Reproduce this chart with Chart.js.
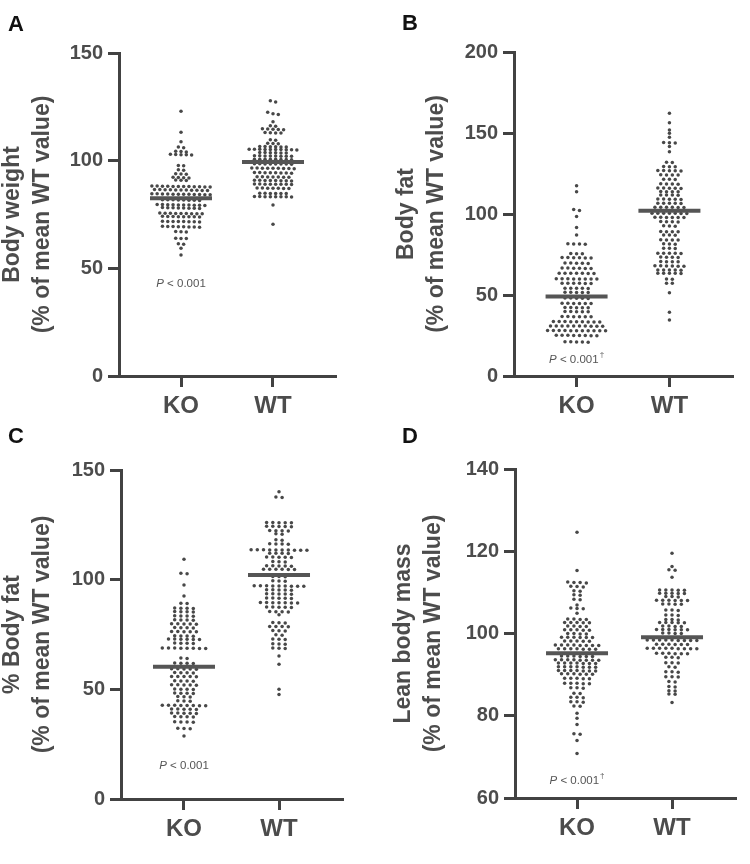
<!DOCTYPE html>
<html>
<head>
<meta charset="utf-8">
<script src="https://cdn.jsdelivr.net/npm/chart.js@4.4.1/dist/chart.umd.min.js"></script>
<style>
  body { margin: 0; background: #fff; }
  #fig { position: relative; width: 750px; height: 864px; overflow: hidden; }
  .panel { position: absolute; width: 375px; height: 432px; }
  .letter { position: absolute; font: bold 22px/22px "Liberation Sans", Arial, sans-serif; color: #111; }
</style>
</head>
<body>
<div id="fig">
  <div class="panel" style="left:0;top:0"><canvas id="chartA" width="375" height="432"></canvas></div>
  <div class="panel" style="left:375px;top:0"><canvas id="chartB" width="375" height="432"></canvas></div>
  <div class="panel" style="left:0;top:432px"><canvas id="chartC" width="375" height="432"></canvas></div>
  <div class="panel" style="left:375px;top:432px"><canvas id="chartD" width="375" height="432"></canvas></div>
  <div class="letter" style="left:8px;top:13px">A</div>
  <div class="letter" style="left:402px;top:12px">B</div>
  <div class="letter" style="left:8px;top:425px">C</div>
  <div class="letter" style="left:402px;top:425px">D</div>
</div>
<script>
const GROUPS = ['KO', 'WT'];

// A: body weight (% of mean WT value)
const bodyWeightKO = [123.0, 113.2, 108.8, 106.3, 106.0, 104.4, 104.2, 104.0, 103.0, 102.9, 102.8, 102.7, 102.6,
  97.8, 97.6, 95.8, 95.6, 93.9, 93.8, 93.7, 92.3, 92.2, 92.1, 92.0, 91.0, 90.9, 90.8,
  88.1, 87.9, 88.0, 88.2, 87.8, 88.0, 88.1, 87.9, 88.0, 88.2, 87.8, 88.0,
  86.5, 86.3, 86.4, 86.6, 86.2, 86.4, 86.5, 86.3, 86.4, 86.6, 86.2,
  84.5, 84.3, 84.4, 84.6, 84.2, 84.4, 84.5, 84.3, 84.4, 84.6, 84.2, 84.4,
  81.8, 81.6, 81.7, 81.9, 81.5, 81.7, 81.8, 81.6,
  79.5, 79.3, 79.4, 79.6, 79.2, 79.4, 79.5, 79.3, 79.4, 79.6,
  78.1, 77.9, 78.0, 78.2, 77.8, 78.0, 78.1, 77.9,
  75.6, 75.4, 75.5, 75.7, 75.3, 75.5, 75.6, 75.4, 75.5,
  74.1, 73.9, 74.0, 74.2, 73.8, 74.0, 74.1, 73.9,
  71.8, 71.6, 71.7, 71.9, 71.5, 71.7, 71.8, 71.6,
  69.4, 69.2, 69.3, 69.5, 69.1, 69.3, 69.4, 69.2,
  67.1, 66.9, 67.0, 64.0, 63.9, 63.8, 61.4, 61.2, 59.3, 56.2];
const bodyWeightWT = [127.8, 127.2, 122.5, 121.8, 121.4, 118.1, 116.2, 116.0,
  114.8, 114.7, 114.6, 114.5, 114.4, 113.1, 113.0, 112.9, 112.8,
  109.7, 109.5, 108.1, 107.9, 108.0,
  106.6, 106.5, 106.4, 106.6, 106.5, 106.4,
  105.3, 105.2, 105.1, 105.2, 105.3, 105.1, 105.2, 105.0, 105.2, 105.3,
  103.8, 103.7, 103.6, 103.7, 103.8, 103.6,
  102.3, 102.2, 102.1, 102.2, 102.3, 102.1, 102.2, 102.0,
  100.7, 100.6, 100.5, 100.6, 100.7, 100.5, 100.6, 100.4,
  98.6, 98.5, 98.4, 98.5, 98.6, 98.4, 98.5, 98.3,
  96.6, 96.5, 96.4, 96.5, 96.6, 96.4, 96.5, 96.3, 96.5,
  94.5, 94.4, 94.3, 94.4, 94.5, 94.3, 94.4, 94.2,
  92.5, 92.4, 92.3, 92.4, 92.5, 92.3, 92.4,
  90.9, 90.8, 90.7, 90.8, 90.9, 90.7, 90.8, 90.6,
  89.2, 89.1, 89.0, 89.1, 89.2, 89.0, 89.1, 88.9,
  87.3, 87.2, 87.1, 87.2, 87.3, 87.1, 87.2,
  84.9, 84.8, 84.7, 84.8, 84.9, 84.7,
  83.4, 83.3, 83.2, 83.3, 83.4, 83.2, 83.3, 83.1,
  79.4, 70.5];
const bodyWeightMedian = [82.5, 99.4];

// B: body fat (% of mean WT value)
const bodyFatKO = [117.5, 113.8, 102.8, 102.2, 98.4, 91.6, 87.0,
  81.6, 81.5, 81.4, 81.5, 75.6, 75.5, 75.4,
  73.1, 73.0, 72.9, 73.0, 73.1, 72.9,
  69.7, 69.6, 69.5, 69.6, 69.7,
  66.6, 66.5, 66.4, 66.5, 66.6, 66.4,
  63.5, 63.4, 63.3, 63.4, 63.5, 63.3, 63.4,
  60.0, 59.9, 59.8, 59.9, 60.0, 59.8, 59.9, 60.1,
  57.3, 57.2, 57.1, 57.2, 57.3, 57.1,
  54.2, 54.1, 54.0, 54.1, 54.2,
  51.7, 51.6, 51.5, 51.6, 51.7,
  48.1, 48.0, 47.9, 48.0, 48.1,
  44.9, 44.8, 44.7, 44.8, 44.9, 44.7,
  42.3, 42.2, 42.1, 42.2, 42.3,
  39.8, 39.7, 39.6, 39.7, 39.8,
  36.7, 36.6, 36.5, 36.6, 36.7, 36.5,
  33.6, 33.5, 33.4, 33.5, 33.6, 33.4, 33.5, 33.6, 33.4,
  30.9, 30.8, 30.7, 30.8, 30.9, 30.7, 30.8, 30.9, 30.7, 30.8,
  28.1, 28.0, 27.9, 28.0, 28.1, 27.9, 28.0, 28.1, 27.9, 28.0, 28.1,
  25.1, 25.0, 24.9, 25.0, 25.1, 24.9, 25.0, 25.1,
  21.1, 21.0, 20.9, 21.0, 21.1];
const bodyFatWT = [162.2, 156.4, 151.9, 149.8, 147.3, 144.1, 144.0, 143.9, 141.6, 138.5,
  131.9, 131.8, 129.3, 129.2, 129.1,
  126.8, 126.7, 126.6, 126.7, 126.8,
  124.2, 124.1, 124.0, 124.1, 121.5, 121.4, 121.3,
  118.6, 118.5, 118.4, 118.5,
  116.0, 115.9, 115.8, 115.9, 116.0,
  113.9, 113.8, 113.7, 113.8, 111.8, 111.7, 111.6, 111.7,
  109.2, 109.1, 109.0, 109.1, 109.2,
  106.7, 106.6, 106.5, 106.6, 106.7,
  104.2, 104.1, 104.0, 104.1, 104.2, 104.0,
  100.5, 100.4, 100.3, 100.4, 100.5, 100.3, 100.4,
  98.0, 97.9, 97.8, 97.9, 98.0, 97.8,
  95.3, 95.2, 95.1, 95.2, 92.7, 92.6, 92.5,
  89.2, 89.1, 89.0, 89.1, 87.1, 87.0, 86.9,
  84.1, 84.0, 83.9, 84.0, 81.6, 81.5, 81.4, 78.9, 78.8, 78.7,
  75.8, 75.7, 75.6, 75.7, 75.8, 73.4, 73.3, 73.2, 73.3,
  70.7, 70.6, 70.5, 70.6,
  68.0, 67.9, 67.8, 67.9, 68.0, 67.8,
  65.5, 65.4, 65.3, 65.4, 65.5,
  63.5, 63.4, 63.3, 63.4, 63.5,
  59.8, 59.7, 57.3, 57.2, 51.4, 39.3, 34.6];
const bodyFatMedian = [49.0, 102.0];

// C: % body fat (% of mean WT value)
const pctFatKO = [109.3, 102.9, 102.7, 97.6, 92.6, 89.3, 89.1,
  87.1, 87.0, 86.9, 87.0, 85.5, 85.4, 85.3, 85.4,
  83.5, 83.4, 83.3, 83.4, 81.7, 81.6, 81.5, 81.6,
  79.9, 79.8, 79.7, 79.8, 79.9, 78.2, 78.1, 78.0, 78.1,
  76.4, 76.3, 76.2, 76.3, 76.4, 74.4, 74.3, 74.2, 74.3,
  72.9, 72.8, 72.7, 72.8, 72.9, 72.7, 71.1, 71.0, 70.9, 71.0,
  68.8, 68.7, 68.6, 68.7, 68.8, 68.6, 68.7, 68.8,
  64.3, 64.1, 62.0, 61.9, 61.8, 61.9,
  59.4, 59.3, 59.2, 59.3, 59.4, 57.7, 57.6, 57.5, 57.6,
  55.9, 55.8, 55.7, 55.8, 55.9, 53.9, 53.8, 53.7, 53.8,
  52.1, 52.0, 51.9, 52.0, 52.1, 50.1, 50.0, 49.9, 50.0,
  48.3, 48.2, 48.1, 48.2, 46.7, 46.6, 46.5, 44.8, 44.7, 44.6,
  42.7, 42.6, 42.5, 42.6, 42.7, 42.5, 42.6, 42.7,
  41.0, 40.9, 40.8, 40.9, 41.0, 39.2, 39.1, 39.0, 39.1, 39.2,
  37.6, 37.5, 37.4, 37.5, 35.2, 35.1, 35.0, 35.1,
  32.2, 32.1, 32.0, 28.7];
const pctFatWT = [140.1, 137.7, 137.5,
  126.1, 126.0, 125.9, 126.0, 126.1, 124.3, 124.2, 124.1, 124.2, 124.3,
  122.4, 122.3, 122.2, 122.3, 120.9, 120.7, 118.2, 118.0,
  116.4, 116.3, 116.2, 116.3,
  113.6, 113.5, 113.4, 113.5, 113.6, 113.4, 113.5, 113.6, 113.4, 113.5,
  112.1, 112.0, 111.9, 112.0, 110.3, 110.2, 110.1, 110.2, 110.3,
  108.3, 108.2, 108.1, 106.3, 106.2, 106.1, 106.2, 106.3,
  104.8, 104.7, 104.6, 104.7, 104.8, 104.6,
  101.5, 101.4, 101.3, 99.5, 99.4, 99.3,
  97.2, 97.1, 97.0, 97.1, 97.2, 97.0, 97.1, 97.2, 97.0,
  95.4, 95.3, 95.2, 95.3, 95.4, 93.6, 93.5, 93.4, 93.5, 93.6,
  91.6, 91.5, 91.4, 91.5, 91.6,
  89.6, 89.5, 89.4, 89.5, 89.6, 89.4, 89.5,
  87.5, 87.4, 87.3, 87.4, 87.5, 85.5, 85.4, 85.3, 85.4, 84.0,
  80.5, 80.4, 80.3, 78.7, 78.6, 78.5, 78.6, 76.8, 76.7, 76.6,
  74.9, 74.7, 72.9, 72.8, 72.7, 70.8, 70.7, 70.6, 68.8, 68.7, 68.6,
  65.2, 61.4, 50.0, 47.6];
const pctFatMedian = [60.3, 102.1];

// D: lean body mass (% of mean WT value)
const leanMassKO = [124.6, 115.3,
  112.5, 112.4, 112.3, 112.4, 111.4, 111.3, 111.5,
  110.4, 110.3, 109.4, 109.3, 108.3, 108.2, 106.9, 106.1, 106.0, 106.2, 104.9,
  103.5, 103.4, 103.5, 103.4, 102.7, 102.6, 102.7, 102.6, 102.7,
  101.8, 101.7, 101.8, 101.7, 100.9, 100.8, 100.9, 100.8, 100.9,
  100.0, 99.9, 100.0, 99.9, 99.1, 99.0, 99.1, 99.0, 99.1, 99.0,
  98.2, 98.1, 98.2, 98.1, 98.2,
  97.2, 97.1, 97.2, 97.1, 97.2, 97.1, 97.2, 97.1,
  96.3, 96.2, 96.3, 96.2, 96.3, 96.2, 96.3,
  94.5, 94.4, 94.5, 94.4, 94.5, 94.4,
  93.6, 93.5, 93.6, 93.5, 93.6, 93.5, 93.6, 93.5,
  92.8, 92.7, 92.8, 92.7, 92.8, 92.7, 92.8,
  91.9, 91.8, 91.9, 91.8, 91.9, 91.8, 91.9,
  91.0, 90.9, 91.0, 90.9, 91.0, 90.9, 91.0,
  90.2, 90.1, 90.2, 90.1, 90.2, 90.1,
  89.1, 89.0, 89.1, 89.0, 89.1, 87.9, 87.8, 87.9, 87.8, 87.9,
  86.8, 86.7, 86.8, 85.5, 85.4, 84.5, 84.4, 84.5, 83.4, 83.3, 83.4, 82.4, 82.3,
  80.6, 79.4, 77.9, 75.6, 75.5, 74.0, 70.8];
const leanMassWT = [119.5, 116.3, 115.5, 115.4, 113.7,
  110.6, 110.5, 110.6, 110.5, 110.6, 109.8, 109.7, 109.8, 109.7, 109.8,
  109.0, 108.9, 109.0, 108.1, 108.0, 108.1, 108.0, 108.1, 108.0,
  107.2, 107.1, 107.2, 107.1, 105.7, 105.6, 105.7, 104.5, 104.4, 104.5,
  103.4, 103.3, 103.4, 102.7, 102.6, 102.7, 102.6, 102.7,
  101.8, 101.7, 101.8, 101.7, 101.0, 100.9, 101.0, 100.9, 101.0, 100.9,
  100.1, 100.0, 100.1, 100.0,
  98.4, 98.3, 98.4, 98.3, 98.4, 98.3, 98.4, 98.3, 98.4,
  97.4, 97.3, 97.4, 97.3, 97.4, 97.3,
  96.4, 96.3, 96.4, 96.3, 96.4, 96.3, 96.4, 96.3, 96.4,
  95.2, 95.1, 95.2, 95.1, 95.2, 95.1,
  94.2, 94.1, 94.2, 92.9, 92.8, 92.9, 91.9, 91.8,
  90.7, 90.6, 90.7, 89.5, 89.4, 89.5, 88.3, 88.2, 87.1, 87.0, 86.1, 86.0, 85.3, 85.2,
  83.2];
const leanMassMedian = [95.2, 99.1];

const FONT = '"Liberation Sans", Arial, sans-serif';
const TEXT_COLOR = '#4c4c4c';
const AXIS_COLOR = '#424242';
const DOT_COLOR = '#484848';

// GraphPad-style scatter: values that fall in the same pixel row get spread sideways
function swarm(values, center, pxPerY, pxPerX, gapPx) {
    const sorted = [...values].sort((a, b) => b - a);
    const pts = [];
    let row = [];
    const flush = () => {
        row.forEach((v, i) => pts.push({ x: center + (i - (row.length - 1) / 2) * gapPx / pxPerX, y: v }));
        row = [];
    };
    sorted.forEach(v => {
        if (row.length && (row[0] - v) * pxPerY > 2.5) flush();
        row.push(v);
    });
    flush();
    return pts;
}

const pLabel = {
    id: 'pLabel',
    afterDatasetsDraw(chart, args, o) {
        const { ctx, scales: { x, y } } = chart;
        const cx = x.getPixelForValue(1);
        const cy = y.getPixelForValue(o.value);
        const size = 11.5;
        ctx.save();
        ctx.fillStyle = '#555';
        ctx.textBaseline = 'middle';
        ctx.textAlign = 'left';
        ctx.font = `italic ${size}px ${FONT}`;
        const wP = ctx.measureText('P').width;
        ctx.font = `${size}px ${FONT}`;
        const rest = ' < 0.001';
        const wR = ctx.measureText(rest).width;
        let wD = 0;
        if (o.dagger) {
            ctx.font = `8px ${FONT}`;
            wD = ctx.measureText('\u2020').width + 1;
        }
        let x0 = cx - (wP + wR + wD) / 2;
        ctx.font = `italic ${size}px ${FONT}`;
        ctx.fillText('P', x0, cy);
        x0 += wP;
        ctx.font = `${size}px ${FONT}`;
        ctx.fillText(rest, x0, cy);
        x0 += wR;
        if (o.dagger) {
            ctx.font = `8px ${FONT}`;
            ctx.fillText('\u2020', x0 + 1, cy - 5);
        }
        ctx.restore();
    }
};

function makePanel(id, p) {
    const plotW = 375 - p.axisW - p.padRight;
    const plotH = 432 - p.padTop - p.axisH;
    const pxPerX = plotW / (p.xMax - p.xMin);
    const pxPerY = plotH / (p.yMax - p.yMin);
    const half = 31 / pxPerX;

    const dots = swarm(p.ko, 1, pxPerY, pxPerX, p.gap).concat(swarm(p.wt, 2, pxPerY, pxPerX, p.gap));
    const medianSet = (c, m) => ({
        data: [{ x: c - half, y: m }, { x: c + half, y: m }],
        showLine: true,
        borderColor: '#555',
        borderWidth: 4,
        pointRadius: 0,
        order: 0
    });

    const axisGrid = { drawOnChartArea: false, drawTicks: true, tickLength: 11, lineWidth: 3, color: AXIS_COLOR };
    const axisBorder = { display: true, color: AXIS_COLOR, width: 3 };

    new Chart(document.getElementById(id), {
        type: 'scatter',
        data: {
            datasets: [
                medianSet(1, p.median[0]),
                medianSet(2, p.median[1]),
                {
                    data: dots,
                    pointRadius: 1.75,
                    pointBackgroundColor: DOT_COLOR,
                    pointBorderWidth: 0,
                    order: 1
                }
            ]
        },
        options: {
            responsive: false,
            devicePixelRatio: 1,
            animation: false,
            events: [],
            layout: { padding: { left: 0, top: p.padTop, right: p.padRight, bottom: 0 } },
            scales: {
                x: {
                    type: 'linear',
                    min: p.xMin,
                    max: p.xMax,
                    afterBuildTicks: s => { s.ticks = [{ value: 1 }, { value: 2 }]; },
                    afterFit: s => { s.height = p.axisH; },
                    ticks: {
                        callback: v => GROUPS[v - 1] || '',
                        font: { family: FONT, size: 24, weight: 'bold' },
                        color: TEXT_COLOR,
                        padding: 5,
                        maxRotation: 0
                    },
                    grid: axisGrid,
                    border: axisBorder
                },
                y: {
                    type: 'linear',
                    min: p.yMin,
                    max: p.yMax,
                    afterFit: s => { s.width = p.axisW; },
                    ticks: {
                        stepSize: p.step,
                        font: { family: FONT, size: 20, weight: 'bold' },
                        color: TEXT_COLOR,
                        padding: 5
                    },
                    grid: axisGrid,
                    border: axisBorder,
                    title: {
                        display: true,
                        text: p.title,
                        font: { family: FONT, size: 23, weight: 'bold', lineHeight: 1.3 },
                        color: TEXT_COLOR,
                        padding: { top: p.titlePad, bottom: 0 }
                    }
                }
            },
            plugins: {
                legend: { display: false },
                tooltip: { enabled: false },
                pLabel: { value: p.pY, dagger: p.dagger }
            }
        },
        plugins: [pLabel]
    });
}

makePanel('chartA', {
    ko: bodyWeightKO, wt: bodyWeightWT, median: bodyWeightMedian,
    title: ['Body weight', '(% of mean WT value)'],
    yMin: 0, yMax: 150, step: 50, xMin: 0.326, xMax: 2.674,
    axisW: 119, padTop: 53, axisH: 56, padRight: 40, titlePad: -2,
    gap: 5.3, pY: 42.7, dagger: false
});
makePanel('chartB', {
    ko: bodyFatKO, wt: bodyFatWT, median: bodyFatMedian,
    title: ['Body fat', '(% of mean WT value)'],
    yMin: 0, yMax: 200, step: 50, xMin: 0.326, xMax: 2.674,
    axisW: 139, padTop: 52, axisH: 56, padRight: 18, titlePad: 17,
    gap: 5.8, pY: 9.9, dagger: true
});
makePanel('chartC', {
    ko: pctFatKO, wt: pctFatWT, median: pctFatMedian,
    title: ['% Body fat', '(% of mean WT value)'],
    yMin: 0, yMax: 150, step: 50, xMin: 0.337, xMax: 2.663,
    axisW: 121, padTop: 38, axisH: 65, padRight: 33, titlePad: -2,
    gap: 6.2, pY: 15, dagger: false
});
makePanel('chartD', {
    ko: leanMassKO, wt: leanMassWT, median: leanMassMedian,
    title: ['Lean body mass', '(% of mean WT value)'],
    yMin: 60, yMax: 140, step: 20, xMin: 0.347, xMax: 2.663,
    axisW: 140, padTop: 37, axisH: 66, padRight: 15, titlePad: 14,
    gap: 6.2, pY: 64.1, dagger: true
});
</script>
</body>
</html>
